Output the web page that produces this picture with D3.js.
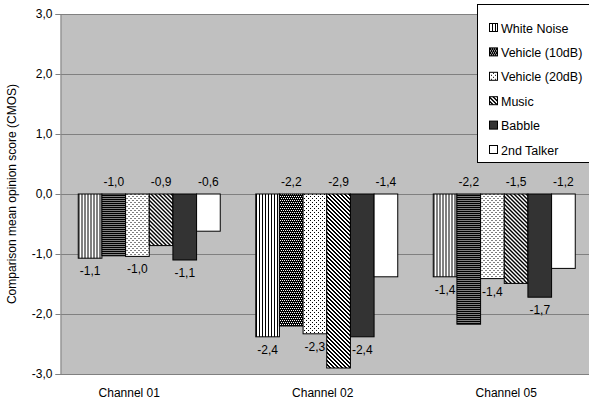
<!DOCTYPE html>
<html>
<head>
<meta charset="utf-8">
<script src="https://cdn.jsdelivr.net/npm/d3@7"></script>
<style>
  html, body { margin: 0; padding: 0; background: #ffffff; }
  svg { display: block; font-family: "Liberation Sans", Arial, sans-serif; }
</style>
</head>
<body>
<svg id="chart" width="589" height="403"></svg>
<script>
// Channels on the x axis
const categories = ["Channel 01", "Channel 02", "Channel 05"];

// Noise conditions (one bar per condition inside each channel group)
const seriesNames = ["White Noise", "Vehicle (10dB)", "Vehicle (20dB)", "Music", "Babble", "2nd Talker"];

// CMOS per channel, one array per condition
const whiteNoise = [-1.07, -2.38, -1.38];
const vehicle10dB = [-1.03, -2.20, -2.17];
const vehicle20dB = [-1.04, -2.33, -1.41];
const music = [-0.86, -2.90, -1.49];
const babble = [-1.10, -2.38, -1.72];
const secondTalker = [-0.62, -1.38, -1.24];

// Value axis ticks
const yTicks = [-3, -2, -1, 0, 1, 2, 3];

const seriesValues = [whiteNoise, vehicle10dB, vehicle20dB, music, babble, secondTalker];

// Decimal comma formatting
const locale = d3.formatLocale({ decimal: ",", thousands: ".", grouping: [3], currency: ["", ""], minus: "-" });
const fmt = locale.format(".1f");

const svg = d3.select("#chart");

const plot = { left: 60.5, right: 593, top: 14, bottom: 374 };

const x0 = d3.scaleBand().domain(categories).range([plot.left, plot.right]).padding(0);
const x1 = d3.scaleBand().domain(seriesNames).range([0, x0.bandwidth()]).paddingInner(0).paddingOuter(0.75);
const y = d3.scaleLinear().domain([-3, 3]).range([plot.bottom, plot.top]);

// Fill patterns
const defs = svg.append("defs");
function pattern(id, w, h, bg, fg, pixels) {
  const p = defs.append("pattern").attr("id", id)
    .attr("patternUnits", "userSpaceOnUse").attr("width", w).attr("height", h);
  p.append("rect").attr("width", w).attr("height", h).attr("fill", bg).attr("shape-rendering", "crispEdges");
  pixels.forEach(([px, py, pw, ph]) => {
    p.append("rect").attr("x", px).attr("y", py).attr("width", pw || 1).attr("height", ph || 1)
      .attr("fill", fg).attr("shape-rendering", "crispEdges");
  });
}
pattern("pWhiteNoise", 3, 3, "#ffffff", "#000000", [[0, 0, 1, 3]]);
pattern("pVeh10", 4, 4, "#000000", "#ffffff", [[0, 0], [2, 0], [1, 2], [3, 2]]);
pattern("pVeh20", 4, 4, "#ffffff", "#000000", [[0, 0], [2, 2]]);
pattern("pMusic", 4, 4, "#ffffff", "#000000",
  [[0, 0], [1, 0], [1, 1], [2, 1], [2, 2], [3, 2], [3, 3], [0, 3]]);

const fills = ["url(#pWhiteNoise)", "url(#pVeh10)", "url(#pVeh20)", "url(#pMusic)", "#333333", "#ffffff"];

// Plot background
svg.append("rect")
  .attr("x", plot.left).attr("y", plot.top)
  .attr("width", plot.right - plot.left).attr("height", plot.bottom - plot.top)
  .attr("fill", "#c0c0c0");

// Horizontal gridlines
svg.append("g").selectAll("line").data(yTicks).join("line")
  .attr("x1", plot.left).attr("x2", plot.right)
  .attr("y1", d => Math.round(y(d)) + 0.5).attr("y2", d => Math.round(y(d)) + 0.5)
  .attr("stroke", "#808080").attr("stroke-width", 1);

// Y axis
const yAxis = d3.axisLeft(y).tickValues(yTicks).tickFormat(fmt).tickSize(5).tickPadding(3);
const gy = svg.append("g").attr("transform", `translate(${plot.left},0)`).call(yAxis);
gy.select(".domain").attr("stroke", "#808080");
gy.selectAll(".tick line").attr("stroke", "#808080");
gy.selectAll(".tick text").attr("font-size", 12).attr("fill", "#000")
  .attr("font-family", "'Liberation Sans', Arial, sans-serif");

// Y title
svg.append("text")
  .attr("transform", `translate(16,${(plot.top + plot.bottom) / 2}) rotate(-90)`)
  .attr("text-anchor", "middle").attr("font-size", 12).attr("fill", "#000")
  .text("Comparison mean opinion score (CMOS)");

// Category labels
const labelNudge = [-20, -4, 2];
svg.append("g").selectAll("text").data(categories).join("text")
  .attr("x", (d, i) => x0(d) + x0.bandwidth() / 2 + labelNudge[i])
  .attr("y", 397)
  .attr("text-anchor", "middle").attr("font-size", 12).attr("fill", "#000")
  .text(d => d);

// Bars
const groups = svg.append("g").selectAll("g").data(categories).join("g")
  .attr("transform", d => `translate(${x0(d)},0)`);

const cells = groups.selectAll("g.cell")
  .data((c, ci) => seriesNames.map((s, si) => ({ series: s, si, value: seriesValues[si][ci] })))
  .join("g").attr("class", "cell");

cells.append("rect")
  .attr("x", d => x1(d.series))
  .attr("y", d => Math.min(y(0), y(d.value)))
  .attr("width", x1.bandwidth())
  .attr("height", d => Math.abs(y(d.value) - y(0)))
  .attr("fill", d => fills[d.si])
  .attr("stroke", "#000").attr("stroke-width", 1);

// Value labels: alternating above the zero line / below the bar end
cells.append("text")
  .attr("x", d => x1(d.series) + x1.bandwidth() / 2)
  .attr("y", d => d.si % 2 === 1 ? y(0) - 8 : y(d.value) + 17)
  .attr("text-anchor", "middle").attr("font-size", 12).attr("fill", "#000")
  .text(d => fmt(d.value));

// Legend
const legend = svg.append("g");
legend.append("rect")
  .attr("x", 477.5).attr("y", 4.5).attr("width", 130).attr("height", 158)
  .attr("fill", "#ffffff").attr("stroke", "#000").attr("stroke-width", 1);

const items = legend.selectAll("g.item").data(seriesNames).join("g").attr("class", "item")
  .attr("transform", (d, i) => `translate(489,${28 + i * 24.4})`);
items.append("rect")
  .attr("x", 0.5).attr("y", -4.5).attr("width", 8).attr("height", 8)
  .attr("fill", (d, i) => fills[i]).attr("stroke", "#000").attr("stroke-width", 1);
items.append("text")
  .attr("x", 12).attr("y", 4.5)
  .attr("font-size", 12.5).attr("fill", "#000")
  .text(d => d);
</script>
</body>
</html>
